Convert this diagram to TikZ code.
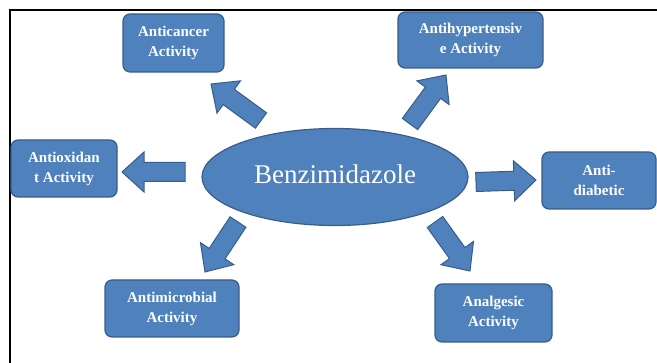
\documentclass[tikz,border=0pt]{standalone}
\usepackage{fontspec}
\setmainfont{Liberation Serif}
\usetikzlibrary{calc,shapes.geometric}
\definecolor{fillblue}{HTML}{4F81BD}
\definecolor{edgeblue}{HTML}{385D8A}
\tikzset{
  box/.style={rectangle, rounded corners=7pt, fill=fillblue, draw=edgeblue, line width=1.2pt,
    text=white, font=\bfseries\fontsize{15}{20}\selectfont, align=center, inner sep=0pt},
  barrow/.style={fill=fillblue, draw=edgeblue, line width=1pt, line join=miter},
  frameline/.style={line width=2pt, draw=black}
}
% #1 name prefix, start coordinate #1s, end coordinate #1e
\newcommand{\blockarrow}[1]{%
  \coordinate (#1hb) at ($(#1e)!22pt!(#1s)$);
  \draw[barrow] ($(#1s)!9.5pt!90:(#1e)$) -- ($(#1hb)!9.5pt!90:(#1e)$)
    -- ($(#1hb)!20pt!90:(#1e)$) -- (#1e) -- ($(#1hb)!20pt!-90:(#1e)$)
    -- ($(#1hb)!9.5pt!-90:(#1e)$) -- ($(#1s)!9.5pt!-90:(#1e)$) -- cycle;
}
\begin{document}
\begin{tikzpicture}[x=1pt,y=-1pt]
\useasboundingbox (0,0) rectangle (657,363);
\draw[frameline] (9.5,363) -- (9.5,10.5) -- (657,10.5);

\node[ellipse, fill=fillblue, draw=edgeblue, line width=1.2pt, minimum width=266pt, minimum height=97pt,
  inner sep=0pt, text=white, font=\fontsize{27}{30}\selectfont] (benz) at (335,177) {\raisebox{5pt}{Benzimidazole}};

\node[box, minimum width=101pt, minimum height=58pt] (cancer) at (173.5,43) {Anticancer\\Activity};
\node[box, minimum width=145pt, minimum height=56pt] (hyper) at (470.5,40) {Antihypertensiv\\e Activity};
\node[box, minimum width=106pt, minimum height=57pt] (oxid) at (64,168.5) {Antioxidan\\t Activity};
\node[box, minimum width=114pt, minimum height=57pt] (diab) at (599,180.5) {Anti-\\diabetic};
\node[box, minimum width=134pt, minimum height=57pt] (micro) at (172,308.5) {Antimicrobial\\Activity};
\node[box, minimum width=117pt, minimum height=58pt] (analg) at (493.5,313) {Analgesic\\Activity};

\coordinate (as) at (261,120.5); \coordinate (ae) at (211,84);
\coordinate (bs) at (410,124);   \coordinate (be) at (446,75);
\coordinate (cs) at (185,172);   \coordinate (ce) at (122,172);
\coordinate (ds) at (476,182);   \coordinate (de) at (536,180);
\coordinate (es) at (238,222);   \coordinate (ee) at (205,272);
\coordinate (fs) at (435,222);   \coordinate (fe) at (470,271);
\blockarrow{a}
\blockarrow{b}
\blockarrow{c}
\blockarrow{d}
\blockarrow{e}
\blockarrow{f}
\end{tikzpicture}
\end{document}
